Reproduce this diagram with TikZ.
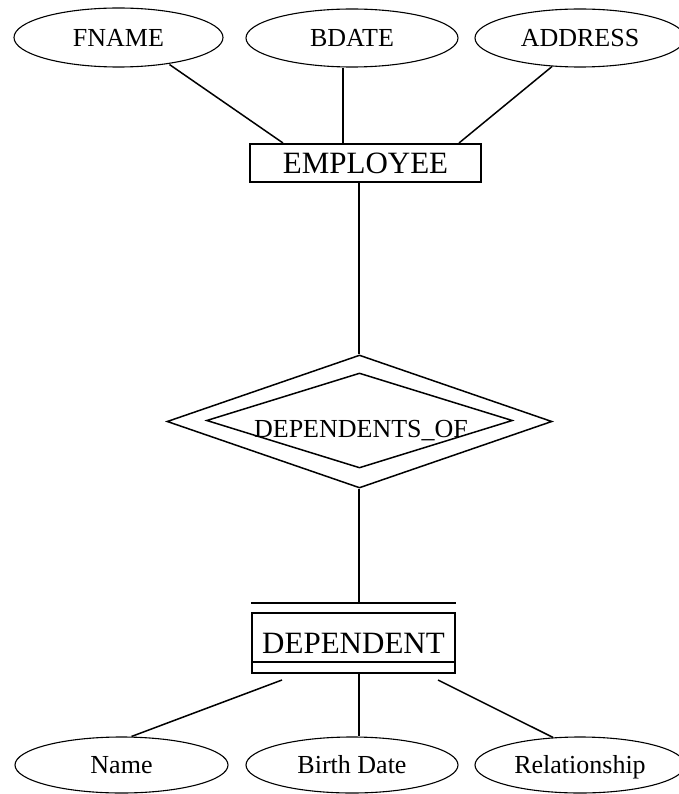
\documentclass[tikz,border=0pt]{standalone}
\usepackage{fontspec}
\setmainfont{Liberation Serif}
\usetikzlibrary{shapes.geometric,calc}
\begin{document}
\begin{tikzpicture}[x=1pt,y=-1pt,
  attr/.style={ellipse, draw, line width=1.1pt, minimum width=210pt, minimum height=58pt, inner sep=0pt, text height=17.2pt, text depth=0pt, font=\fontsize{26}{28}\selectfont},
  entity/.style={rectangle, draw, line width=2pt, inner sep=0pt, text height=20.5pt, text depth=0pt, font=\fontsize{31}{33}\selectfont},
  relship/.style={diamond, draw, line width=1.5pt, inner sep=0pt},
  conn/.style={line width=1.5pt},
  vconn/.style={line width=2pt},
  eline/.style={line width=2pt}]
\useasboundingbox (0,0) rectangle (678,794);
% attributes of EMPLOYEE
\node[attr, minimum width=209pt, minimum height=59pt] (fname) at (118.5,37.5) {FNAME};
\node[attr, minimum width=212pt] (bdate) at (352,38) {BDATE};
\node[attr] (addr) at (580,38) {ADDRESS};
% entity
\node[entity, minimum width=231pt, minimum height=38pt] (emp) at (365.5,163) {EMPLOYEE};
% relationship
\node[relship, minimum width=385pt, minimum height=133pt] (dof) at (359.5,421.5) {};
\node[relship, minimum width=306pt, minimum height=95pt] (dofin) at (359.5,420.5) {};
\node[anchor=base, font=\fontsize{26}{28}\selectfont, inner sep=0pt] (doflabel) at (361,437) {DEPENDENTS\_OF};
% weak entity
\node[entity, minimum width=203pt, minimum height=60pt] (dep) at (353.5,643) {DEPENDENT};
\coordinate (deptopL) at ([yshift=9pt]dep.north west);
\coordinate (deptopR) at ([yshift=9pt]dep.north east);
\coordinate (depinL) at ([yshift=12pt]dep.south west);
\coordinate (depinR) at ([yshift=12pt]dep.south east);
\draw[eline] (deptopL) -- (deptopR);
\draw[eline] (depinL) -- (depinR);
% attributes of DEPENDENT
\node[attr, minimum width=213pt, minimum height=56pt] (name) at (121.5,765) {Name};
\node[attr, minimum width=212pt, minimum height=56pt] (bd) at (352,765) {Birth Date};
\node[attr, minimum width=210pt, minimum height=56pt] (relat) at (580,765) {Relationship};
% connectors
\coordinate (bx) at (343,0);
\coordinate (vx) at (359,0);
\draw[conn] ([xshift=51pt,yshift=3pt]fname.south) -- ([xshift=34pt]emp.north west);
\draw[vconn] (bdate.south -| bx) -- (emp.north -| bx);
\draw[conn] ([xshift=-28pt,yshift=1pt]addr.south) -- ([xshift=-23pt]emp.north east);
\draw[vconn] (emp.south -| vx) -- (dof.north -| vx);
\draw[vconn] (dof.south -| vx) -- (deptopL -| vx);
\draw[vconn] (dep.south -| vx) -- (bd.north -| vx);
\draw[conn] ([xshift=31pt,yshift=-6pt]dep.south west) -- ([xshift=10pt]name.north);
\draw[conn] ([xshift=-18pt,yshift=-6pt]dep.south east) -- ([xshift=-27pt,yshift=-1pt]relat.north);
\end{tikzpicture}
\end{document}
